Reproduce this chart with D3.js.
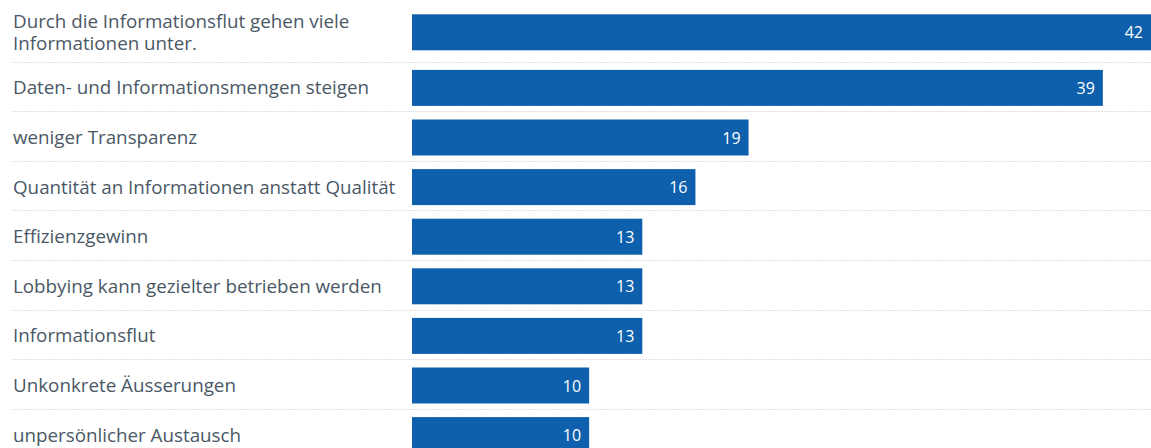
<!DOCTYPE html>
<html>
<head>
<meta charset="utf-8">
<script src="https://cdn.jsdelivr.net/npm/d3@7"></script>
<style>
  html, body { margin: 0; padding: 0; background: #fff; }
  svg { display: block; }
  text { font-family: "Open Sans", "Noto Sans", sans-serif; }
</style>
</head>
<body>
<div id="chart"></div>
<script>
// Antworten (Anzahl Nennungen)
const categories = [
  ["Durch die Informationsflut gehen viele", "Informationen unter."],
  ["Daten- und Informationsmengen steigen"],
  ["weniger Transparenz"],
  ["Quantität an Informationen anstatt Qualität"],
  ["Effizienzgewinn"],
  ["Lobbying kann gezielter betrieben werden"],
  ["Informationsflut"],
  ["Unkonkrete Äusserungen"],
  ["unpersönlicher Austausch"]
];
const values = [42, 39, 19, 16, 13, 13, 13, 10, 10];

const width = 1151, height = 448;
const labelX = 13;
const barStart = 412;
const barH = 36;
const lineH = 24;
const rowPad = 13.6;

const svg = d3.select("#chart").append("svg")
  .attr("width", width).attr("height", height);

// value axis: 0 at the bar origin, bars may run past the right edge
const x = d3.scaleLinear().domain([0, 42]).range([barStart, 1156]);

// row layout: each row as tall as its label block or the bar
const rows = [];
let y0 = 0;
categories.forEach((lines, i) => {
  const h = Math.max(barH, lines.length * lineH) + rowPad;
  rows.push({ lines, value: values[i], top: y0, h, mid: y0 + h / 2 + 1.5 });
  y0 += h;
});

// dotted separators between rows
svg.append("g").selectAll("line")
  .data(rows.slice(0, -1))
  .join("line")
  .attr("x1", 12).attr("x2", width)
  .attr("y1", d => Math.round(d.top + d.h) + 0.5)
  .attr("y2", d => Math.round(d.top + d.h) + 0.5)
  .attr("stroke", "#e0e0e0")
  .attr("stroke-width", 1)
  .attr("stroke-dasharray", "2,1");

// category labels
const lab = svg.append("g").selectAll("text")
  .data(rows)
  .join("text")
  .attr("x", labelX)
  .attr("fill", "#4a5866")
  .attr("font-size", 18.8);
lab.each(function (d) {
  const n = d.lines.length;
  const first = d.mid + 6.5 - (n - 1) * 22 / 2;
  d3.select(this).selectAll("tspan")
    .data(d.lines)
    .join("tspan")
    .attr("x", labelX)
    .attr("y", (t, k) => first + k * 22)
    .text(t => t);
});

// bars
svg.append("g").selectAll("rect")
  .data(rows)
  .join("rect")
  .attr("x", x(0))
  .attr("y", d => d.mid - barH / 2)
  .attr("width", d => x(d.value) - x(0))
  .attr("height", barH)
  .attr("fill", "#0e60ad");

// value labels inside bar ends
svg.append("g").selectAll("text")
  .data(rows)
  .join("text")
  .attr("x", d => Math.min(x(d.value), width) - 8)
  .attr("y", d => d.mid + 6)
  .attr("text-anchor", "end")
  .attr("fill", "#fff")
  .attr("font-size", 16)
  .text(d => d.value);
</script>
</body>
</html>
